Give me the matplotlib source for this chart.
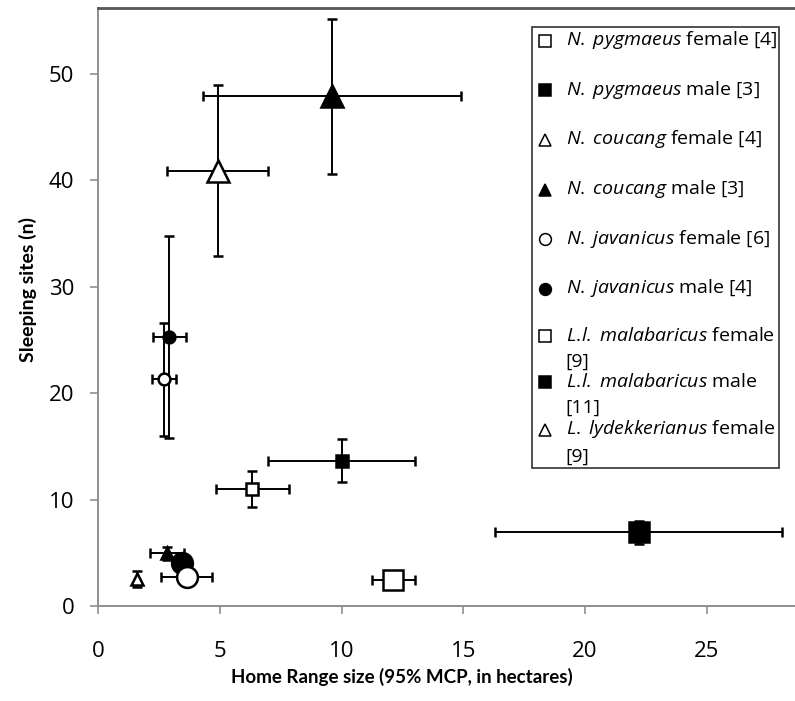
import matplotlib.pyplot as plt
from matplotlib.lines import Line2D

plt.rcParams['font.family'] = ['Open Sans', 'DejaVu Sans']
plt.rcParams['mathtext.fontset'] = 'custom'
plt.rcParams['mathtext.it'] = 'Open Sans:italic'
plt.rcParams['mathtext.rm'] = 'Open Sans'

# legend labels (None = not in legend); every legend entry is two lines tall
labels = [
    '$\\mathit{N.\\;pygmaeus}$ female [4]\n',
    '$\\mathit{N.\\;pygmaeus}$ male [3]\n',
    '$\\mathit{N.\\;coucang}$ female [4]\n',
    '$\\mathit{N.\\;coucang}$ male [3]\n',
    '$\\mathit{N.\\;javanicus}$ female [6]\n',
    '$\\mathit{N.\\;javanicus}$ male [4]\n',
    '$\\mathit{L.\\!l.\\;malabaricus}$ female\n[9]',
    '$\\mathit{L.\\!l.\\;malabaricus}$ male\n[11]',
    '$\\mathit{L.\\;lydekkerianus}$ female\n[9]',
    None,
    None,
    None,
]
home_range = [12.13, 22.2, 4.92, 9.62, 3.64, 3.44, 6.34, 10.0, 1.62, 2.82, 2.72, 2.93]
home_range_err = [0.88, 5.9, 2.07, 5.3, 1.05, 0.0, 1.5, 3.0, 0.0, 0.7, 0.5, 0.68]
sleeping_sites = [2.44, 6.93, 40.9, 47.9, 2.76, 4.05, 11.0, 13.65, 2.5, 4.95, 21.3, 25.3]
sleeping_sites_err = [0.5, 1.1, 8.05, 7.3, 0.3, 0.0, 1.7, 2.0, 0.75, 0.6, 5.3, 9.5]

# styles
markers = ['s', 's', '^', '^', 'o', 'o', 's', 's', '^', '^', 'o', 'o']
filled = [False, True, False, True, False, True, False, True, False, True, False, True]
big = [True] * 6 + [False] * 6
zorders = [3, 3, 3, 3, 4, 3, 2, 2, 2, 2, 2, 2]

fig = plt.figure(figsize=(7.95, 7.01), dpi=100)
ax = fig.add_axes([98 / 795, 95 / 701, 697 / 795, 598 / 701])

handles = []
for i in range(len(home_range)):
    fc = 'black' if filled[i] else 'white'
    ms = 15 if big[i] else 8.5
    if markers[i] == '^':
        ms *= 1.1
    xe = home_range_err[i] if home_range_err[i] > 0 else None
    ye = sleeping_sites_err[i] if sleeping_sites_err[i] > 0 else None
    ax.errorbar(home_range[i], sleeping_sites[i], xerr=xe, yerr=ye,
                fmt=markers[i], ms=ms, mfc=fc, mec='black', mew=1.8,
                ecolor='black', elinewidth=1.4, capsize=3.5, capthick=1.6,
                zorder=zorders[i])
    if labels[i] is not None:
        handles.append(Line2D([], [], ls='none', marker=markers[i], ms=8.5,
                              mfc=fc, mec='black', mew=1.1, label=labels[i]))

ax.set_xlim(0, 28.62)
ax.set_ylim(0, 56.2)
ax.set_xticks(range(0, 30, 5))
ax.set_yticks(range(0, 60, 10))

for side in ['left', 'bottom']:
    ax.spines[side].set_color('#8f8f8f')
    ax.spines[side].set_linewidth(1.4)
ax.spines['top'].set_color('#555555')
ax.spines['top'].set_linewidth(2)
ax.spines['right'].set_visible(False)

ax.tick_params(axis='both', colors='#8f8f8f', labelcolor='black', labelsize=16,
               length=6, width=1.2, direction='out')
ax.tick_params(axis='y', pad=11)
ax.tick_params(axis='x', pad=19)

ax.set_xlabel('Home Range size (95% MCP, in hectares)', family='Lato',
              fontweight='bold', fontsize=13.5)
ax.set_ylabel('Sleeping sites (n)', family='Lato', fontweight='bold', fontsize=14)
ax.xaxis.set_label_coords(0.436, -0.103)
ax.yaxis.set_label_coords(-0.087, 0.53)

leg = ax.legend(handles=handles, loc='upper right', bbox_to_anchor=(0.977, 0.968),
                borderaxespad=0, fontsize=14, frameon=True, fancybox=False,
                edgecolor='black', handlelength=1.2, handletextpad=0.45,
                labelspacing=0.1, borderpad=0.1)
leg.get_frame().set_linewidth(1.2)
for t in leg.get_texts():
    t.set_linespacing(1.55)
# line the legend markers up with the first text line
for h in leg.legend_handles:
    h.set_ydata([y + 9 for y in h.get_ydata()])

plt.savefig('out.png', dpi=100)
